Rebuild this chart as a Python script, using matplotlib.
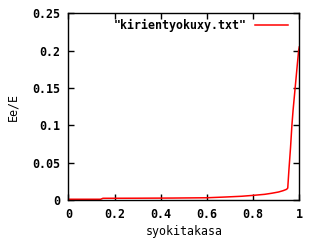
import matplotlib
matplotlib.use("Agg")
import matplotlib.pyplot as plt

plt.rcParams['font.family'] = 'DejaVu Sans Mono'
plt.rcParams['font.weight'] = 'bold'
plt.rcParams['font.size'] = 8.4

# values
x_vals = [0.0, 0.14, 0.15, 0.3, 0.45, 0.6, 0.68, 0.75, 0.8, 0.85, 0.88, 0.91,
          0.93, 0.945, 0.95, 0.955, 0.962, 0.968, 0.973, 0.979, 0.985, 0.991,
          0.997, 1.0]
y_vals = [0.001, 0.001, 0.0023, 0.0024, 0.0026, 0.003, 0.004, 0.005, 0.0062,
          0.0076, 0.009, 0.0107, 0.0125, 0.0143, 0.016, 0.04, 0.07, 0.10, 0.12,
          0.14, 0.16, 0.18, 0.2, 0.205]
x_ticks = [0, 0.2, 0.4, 0.6, 0.8, 1]
x_tick_labels = ["0", "0.2", "0.4", "0.6", "0.8", "1"]
y_ticks = [0, 0.05, 0.1, 0.15, 0.2, 0.25]
y_tick_labels = ["0", "0.05", "0.1", "0.15", "0.2", "0.25"]

fig = plt.figure(figsize=(3.2, 2.4), dpi=100)
ax = fig.add_axes([68.3 / 320, 1 - 200 / 240, 231 / 320, 186.7 / 240])

ax.plot(x_vals, y_vals, color='#ff0000', lw=1.1, label='"kirientyokuxy.txt"')
ax.set_xlim(0, 1)
ax.set_ylim(0, 0.25)
ax.set_xticks(x_ticks)
ax.set_xticklabels(x_tick_labels)
ax.set_yticks(y_ticks)
ax.set_yticklabels(y_tick_labels)
ax.tick_params(direction='in', length=4, width=1, top=True, right=True, pad=6)
for s in ax.spines.values():
    s.set_linewidth(1)

ax.set_xlabel("syokitakasa", labelpad=3)
ax.set_ylabel("Ee/E", labelpad=9)

leg = ax.legend(loc='upper right', frameon=False, markerfirst=False,
                handlelength=2.8, handletextpad=0.7, borderaxespad=0.1,
                bbox_to_anchor=(0.975, 1.0))

fig.savefig("out.png", dpi=100)
